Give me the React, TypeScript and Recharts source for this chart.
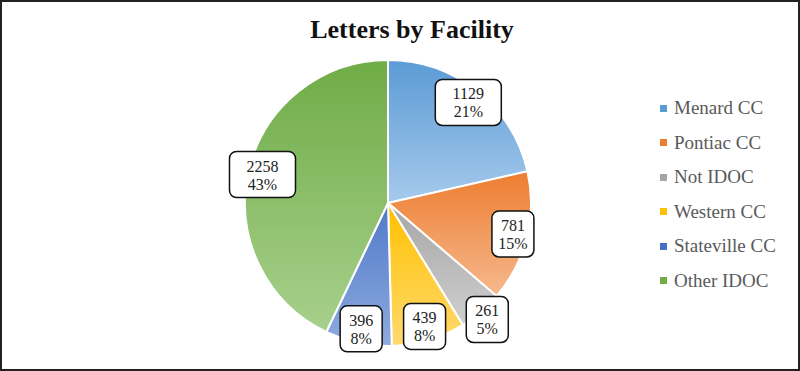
import { PieChart, Pie, Cell, Legend } from 'recharts';

const facilities = ['Menard CC', 'Pontiac CC', 'Not IDOC', 'Western CC', 'Stateville CC', 'Other IDOC'];
const letters = [1129, 781, 261, 439, 396, 2258];
const topColors = ['#5b9bd5', '#ed7d31', '#a5a5a5', '#ffc000', '#4f79c8', '#6fac46'];
const bottomColors = ['#a6caec', '#f6b98e', '#cfcfcf', '#ffda6e', '#8eaadf', '#a8d08d'];
const solidColors = ['#5b9bd5', '#ed7d31', '#a5a5a5', '#ffc000', '#4472c4', '#70ad47'];

const chartData = facilities.map((name, i) => ({ name, value: letters[i] }));

const FONT = '"Liberation Serif", "Times New Roman", serif';
const RADIAN = Math.PI / 180;

function renderLabel(props: any) {
  const { cx, cy, midAngle, outerRadius, percent, value } = props;
  // small slices get their label pushed out to the rim, like Excel's best fit
  const r = outerRadius * (percent < 0.06 ? 1.07 : 0.9);
  const x = cx + r * Math.cos(-midAngle * RADIAN);
  const y = cy + r * Math.sin(-midAngle * RADIAN);
  const w = String(value).length >= 4 ? 66 : 42;
  const h = 46;
  return (
    <g>
      <rect x={x - w / 2} y={y - h / 2} width={w} height={h} rx={7} ry={7} fill="#fff" stroke="#111" strokeWidth={1.5} />
      <text x={x} y={y - 3} textAnchor="middle" fontFamily={FONT} fontSize={16} fill="#222">
        {value}
      </text>
      <text x={x} y={y + 15} textAnchor="middle" fontFamily={FONT} fontSize={16} fill="#222">
        {Math.round(percent * 100)}%
      </text>
    </g>
  );
}

function renderLegend() {
  return (
    <ul style={{ listStyle: 'none', margin: 0, padding: 0 }}>
      {facilities.map((name, i) => (
        <li key={name} style={{ height: 34.5, display: 'flex', alignItems: 'center', fontFamily: FONT, fontSize: 19, color: '#595959' }}>
          <span style={{ display: 'inline-block', width: 7, height: 7, background: solidColors[i], marginRight: 7 }} />
          {name}
        </li>
      ))}
    </ul>
  );
}

export default function App() {
  return (
    <div style={{ position: 'absolute', left: 0, top: 0, width: 796, height: 367, border: '2px solid #222', background: '#fff' }}>
      <div style={{ position: 'absolute', left: 0, width: 820, top: 13, textAlign: 'center', fontFamily: FONT, fontWeight: 'bold', fontSize: 26, color: '#111' }}>
        Letters by Facility
      </div>
      <PieChart width={796} height={367}>
        <defs>
          {topColors.map((c, i) => (
            <linearGradient key={i} id={`grad${i}`} x1="0" y1="0" x2="0" y2="1">
              <stop offset="0%" stopColor={c} />
              <stop offset="100%" stopColor={bottomColors[i]} />
            </linearGradient>
          ))}
        </defs>
        <Pie
          data={chartData}
          dataKey="value"
          nameKey="name"
          cx={381}
          cy={196}
          outerRadius={143}
          startAngle={90}
          endAngle={-270}
          stroke="#fff"
          strokeWidth={2}
          label={renderLabel}
          labelLine={false}
          isAnimationActive={false}
        >
          {chartData.map((d, i) => (
            <Cell key={d.name} fill={`url(#grad${i})`} />
          ))}
        </Pie>
        <Legend
          layout="vertical"
          align="right"
          verticalAlign="top"
          content={renderLegend}
          wrapperStyle={{ left: 658, top: 89, width: 140 }}
        />
      </PieChart>
    </div>
  );
}
